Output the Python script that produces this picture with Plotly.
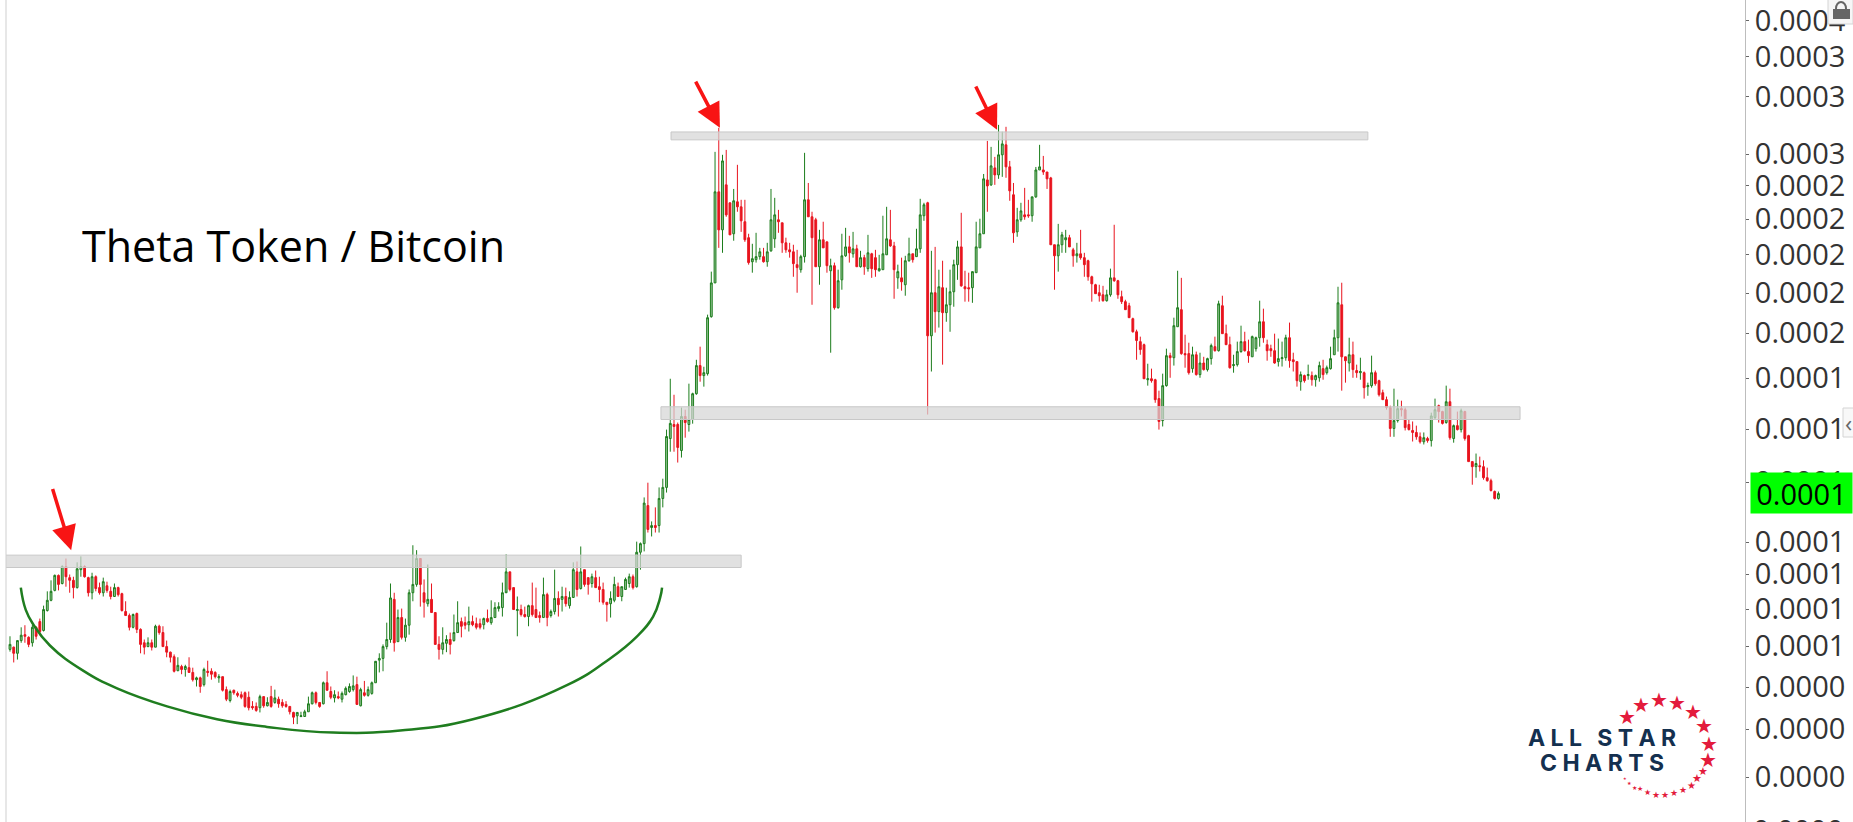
import numpy as np
import plotly.graph_objects as go

# Prices are in millionths of a BTC.
highs = [
61.3,59.4,60.5,63.0,63.4,61.3,63.5,63.2,64.7,67.3,
70.3,72.7,74.0,74.0,76.1,77.7,74.0,73.5,76.8,78.2,
76.1,73.5,74.4,73.8,72.2,73.3,72.4,71.3,72.0,71.3,
70.0,68.2,65.7,65.7,65.9,62.8,60.7,61.1,60.7,63.5,
63.5,63.2,60.5,58.5,58.0,57.5,56.2,56.2,57.5,55.7,
54.2,54.2,55.7,56.9,55.6,55.1,54.6,54.2,52.6,52.1,
52.1,51.8,51.8,51.8,51.8,50.3,50.1,51.3,51.0,50.9,
52.7,52.1,51.0,50.6,50.3,49.5,48.7,48.6,48.7,49.0,
51.0,51.8,51.8,50.1,53.4,55.1,52.6,52.0,51.8,51.8,
52.6,53.1,54.4,54.2,52.4,53.5,52.6,53.4,56.6,58.2,
59.8,63.9,72.0,70.0,66.5,66.7,64.7,70.7,80.9,79.7,
77.7,72.9,76.3,72.0,65.9,61.3,63.0,61.5,62.0,65.5,
68.2,64.9,65.1,67.1,65.3,64.9,64.7,64.9,66.5,68.4,
68.0,68.0,72.2,78.7,74.6,71.1,69.2,67.5,67.1,67.5,
72.2,71.1,66.1,73.3,70.0,66.5,75.1,70.3,71.3,71.1,
70.3,76.8,77.0,80.6,75.1,73.3,74.2,74.9,73.5,72.2,
68.0,70.3,73.5,72.2,71.3,73.3,74.2,74.0,81.8,81.6,
93.6,97.9,87.0,90.8,96.5,99.1,115.1,134.4,128.0,117.6,
123.1,122.3,132.4,128.8,142.4,148.2,139.4,163.4,186.3,268.4,
288.8,266.0,270.0,229.8,239.7,258.0,231.9,231.9,209.1,202.8,
209.7,200.3,200.3,203.4,239.7,233.3,224.9,216.2,206.6,203.4,
202.2,199.1,196.1,267.6,244.1,223.6,219.5,211.6,216.9,204.0,
193.8,191.5,187.4,209.1,212.9,207.8,210.3,202.2,198.5,196.1,
208.4,197.3,199.1,196.1,220.9,227.0,224.9,204.0,190.3,194.4,
195.5,206.6,196.7,212.3,232.6,229.8,230.5,198.5,200.9,187.4,
192.6,177.4,187.4,193.2,204.7,222.9,186.8,185.7,186.3,216.9,
218.9,250.9,277.5,272.5,264.3,291.4,285.3,289.7,261.1,244.1,
226.3,229.8,240.5,231.9,234.0,256.3,274.2,265.1,252.4,248.7,
202.2,215.5,210.3,211.6,208.4,200.3,203.4,211.6,197.3,193.2,
184.0,179.5,179.0,178.4,176.3,188.0,214.9,181.7,175.8,171.0,
169.4,161.9,156.1,152.8,149.6,140.7,138.6,134.4,129.6,136.5,
147.3,145.5,161.9,186.8,182.8,153.7,150.0,148.2,146.0,145.5,
143.7,143.3,149.6,152.8,170.5,173.1,158.5,152.8,144.6,150.5,
158.0,155.1,151.4,153.3,152.8,170.5,166.4,151.4,149.1,154.2,
151.9,150.5,153.7,159.5,145.5,141.6,137.4,136.1,140.3,137.4,
136.1,141.6,142.4,139.9,148.2,156.1,177.9,180.1,143.7,152.3,
150.5,140.3,143.3,137.4,132.8,144.2,137.8,134.0,130.0,127.3,
123.8,130.4,126.1,125.7,123.1,118.7,118.0,116.5,114.1,114.1,
112.6,121.2,126.5,124.2,121.9,131.6,130.4,116.9,121.6,122.7,
121.9,113.3,104.4,107.0,106.0,104.8,102.5,99.1,95.6,95.3,
]
lows = [
58.5,56.6,57.1,60.1,60.1,59.3,59.4,60.7,61.5,62.2,
66.1,68.2,70.3,70.5,71.8,71.3,70.0,68.8,70.9,73.5,
73.3,69.2,68.6,70.3,69.6,69.2,70.0,68.6,69.2,69.2,
66.1,65.3,62.4,62.8,61.9,58.2,58.0,59.3,58.7,59.3,
61.6,59.4,57.5,56.6,54.9,55.1,54.6,54.2,54.9,53.4,
52.6,51.6,52.6,54.2,53.7,53.9,53.2,51.8,50.3,50.1,
51.3,50.9,50.6,49.3,48.9,49.0,48.7,48.6,49.3,49.5,
49.3,49.9,49.3,49.3,49.3,48.3,46.9,46.9,47.9,48.0,
48.7,49.8,49.8,49.3,49.8,52.1,50.6,50.1,50.6,50.1,
51.2,51.6,51.8,49.8,49.5,51.0,51.0,51.3,53.2,54.9,
55.1,58.9,60.1,58.5,60.3,60.7,60.3,61.6,68.2,71.3,
67.1,64.9,67.1,65.9,59.8,57.1,58.0,58.4,58.0,60.3,
62.0,61.1,62.6,62.2,63.2,62.6,62.6,62.6,63.9,63.5,
64.9,66.1,65.1,70.3,70.3,66.5,61.3,65.1,64.9,63.2,
65.1,64.9,63.9,64.9,63.2,64.9,65.5,65.1,66.1,67.1,
66.7,69.0,69.2,70.7,71.3,69.6,71.1,71.1,68.0,67.5,
64.1,64.9,68.0,69.2,68.2,70.7,71.1,70.7,71.1,75.1,
79.4,84.1,83.1,84.1,84.1,90.8,95.0,107.6,107.6,104.1,
105.7,112.3,114.4,117.2,128.0,133.2,131.2,135.7,161.9,180.0,
200.3,197.3,220.2,208.4,204.7,223.6,210.3,204.0,190.3,185.7,
191.5,193.2,191.5,189.1,197.9,200.3,209.7,197.3,197.3,194.4,
183.4,174.7,185.7,191.5,220.2,168.4,189.1,179.0,200.3,185.7,
145.5,165.9,166.4,176.3,194.9,191.5,194.4,189.1,188.6,184.5,
186.3,182.8,183.4,186.3,187.4,196.1,200.9,171.5,176.8,175.8,
173.1,192.0,191.5,194.9,197.3,217.5,120.5,137.4,154.7,157.1,
140.3,159.9,155.1,167.4,181.7,177.9,170.0,170.0,169.4,185.7,
200.3,209.1,223.6,241.9,242.7,247.2,248.7,248.0,231.2,203.4,
207.2,216.9,218.2,219.5,216.9,233.3,254.0,250.2,239.7,202.2,
176.3,186.3,197.3,197.3,200.9,189.1,191.5,193.2,183.4,181.2,
170.0,174.2,170.0,170.0,170.0,172.6,180.6,171.5,168.8,165.9,
161.9,154.7,142.4,144.6,134.4,131.6,132.8,124.9,115.1,116.2,
131.2,134.8,139.9,157.5,144.6,139.0,136.1,136.9,135.7,134.8,
137.8,137.4,140.3,146.0,146.0,154.2,149.1,138.6,136.9,139.5,
145.5,146.0,141.1,143.7,146.0,148.2,150.0,142.0,143.7,140.7,
139.5,139.5,142.0,139.0,137.4,131.2,129.6,132.8,134.0,131.6,
131.2,133.2,134.0,136.1,138.2,144.6,146.0,129.6,132.8,137.4,
134.8,134.8,134.0,126.5,127.6,130.8,131.6,127.3,126.1,122.3,
112.6,112.6,117.6,119.8,114.8,114.8,111.0,111.6,110.3,110.0,
110.6,109.3,118.7,117.6,116.9,117.2,111.6,110.6,114.8,114.1,
111.3,104.4,97.3,99.4,101.3,98.8,98.2,95.3,93.0,93.0,
]
body_tops = [
59.8,59.3,60.5,61.5,61.6,61.1,63.0,63.0,64.1,66.5,
68.4,70.3,73.8,73.8,75.8,75.8,73.3,72.7,75.3,75.8,
75.8,73.3,73.5,73.5,71.1,72.4,71.5,70.3,71.1,71.1,
69.8,66.1,65.3,65.5,65.7,62.6,60.1,60.1,60.1,63.2,
63.2,62.0,59.4,58.4,57.6,56.1,55.9,55.9,55.7,54.9,
54.0,54.0,55.4,55.1,55.1,54.9,54.2,54.2,52.1,51.8,
52.0,51.5,51.3,51.6,50.9,49.5,49.5,51.0,51.0,50.1,
51.0,50.8,50.6,50.1,49.8,49.5,48.6,48.6,48.1,48.7,
49.9,51.6,51.6,50.1,53.2,53.2,51.8,51.3,51.0,51.5,
52.3,52.6,52.7,52.9,52.1,51.6,52.1,53.2,56.8,57.3,
59.4,60.7,68.9,68.6,64.9,64.9,63.4,70.0,71.8,77.7,
77.7,70.0,68.6,68.6,65.9,59.8,60.1,60.7,60.7,62.0,
63.9,64.1,63.9,64.1,64.1,63.7,63.7,64.7,64.7,64.9,
66.9,67.1,70.0,74.6,74.6,71.1,66.5,66.5,65.5,67.3,
67.3,66.5,65.3,69.6,69.6,66.1,68.8,68.8,69.2,69.2,
69.0,75.1,74.6,74.6,75.1,73.3,73.5,73.3,71.3,70.7,
68.0,68.8,71.8,71.3,71.3,72.9,73.5,73.5,79.2,81.3,
92.0,91.3,85.9,85.9,93.3,96.5,112.7,117.3,116.9,116.9,
119.8,119.8,118.7,128.4,139.9,139.9,136.9,161.9,180.0,237.6,
237.6,261.1,242.7,229.8,231.2,230.5,227.0,216.9,206.6,193.8,
195.0,197.9,195.0,197.9,218.2,221.5,218.2,216.2,203.4,199.1,
197.9,190.3,195.0,231.9,231.9,220.2,218.2,205.3,205.3,204.0,
189.7,189.7,181.2,195.5,200.9,200.9,199.7,199.7,194.4,194.4,
197.3,196.7,194.4,188.0,196.7,205.9,205.3,201.5,186.3,182.8,
192.6,196.7,196.7,199.7,221.5,228.4,229.8,174.7,174.7,177.9,
177.4,168.4,175.2,190.3,200.9,200.9,177.9,177.4,186.3,200.9,
209.1,247.2,246.4,257.2,255.6,266.0,275.0,274.2,256.4,235.5,
218.2,224.2,221.5,221.5,234.0,254.0,256.4,254.0,252.4,247.9,
202.2,202.2,208.4,206.6,206.6,199.1,196.7,196.7,194.4,192.6,
183.4,179.0,174.7,173.6,173.6,182.8,182.8,181.2,172.6,170.0,
167.9,161.4,155.1,150.5,149.1,134.4,134.4,134.0,126.5,131.6,
144.2,144.2,158.0,166.9,165.9,145.1,145.1,144.6,144.6,141.0,
141.0,142.9,148.7,148.2,168.9,167.9,154.2,149.1,140.3,146.0,
150.5,150.5,146.0,152.8,152.3,159.9,159.9,149.1,147.3,146.4,
142.9,143.3,152.3,152.3,142.4,141.6,136.1,135.7,136.1,135.7,
135.7,139.9,138.6,139.0,142.9,152.3,169.4,168.4,143.7,144.6,
144.6,137.8,137.4,136.9,131.6,136.9,136.9,133.6,128.8,126.1,
123.1,118.3,122.7,122.7,122.3,116.9,114.8,114.1,112.6,112.3,
112.0,120.0,122.3,123.8,121.6,125.3,125.3,116.5,116.5,121.9,
121.6,113.0,104.4,103.8,103.1,102.8,99.4,98.5,95.3,94.7,
]
body_bottoms = [
58.9,58.2,58.2,60.5,61.3,59.8,60.1,61.3,62.2,62.4,
66.3,68.4,70.5,71.8,72.0,73.5,72.7,71.1,71.1,75.1,
73.5,70.0,70.0,70.9,70.0,70.0,70.5,69.2,69.2,69.6,
66.3,65.3,63.0,63.0,62.6,59.8,59.3,59.4,59.3,59.3,
62.0,59.4,58.4,57.5,55.1,55.2,55.4,55.4,54.9,53.7,
53.7,52.6,52.9,54.9,54.6,54.2,54.0,52.0,50.6,50.4,
51.6,51.2,50.9,49.5,49.3,49.3,48.9,49.3,49.6,49.6,
49.5,50.1,49.9,49.6,49.5,48.7,47.9,48.1,48.0,48.0,
48.7,49.9,50.1,49.5,49.9,52.0,50.9,50.8,50.8,50.6,
51.3,51.8,52.1,49.8,49.6,51.2,51.2,51.5,53.2,57.0,
57.3,59.4,60.7,60.1,60.3,61.1,61.1,63.4,70.0,71.8,
71.8,68.0,67.7,65.9,59.8,58.9,58.9,60.0,59.8,60.5,
62.0,63.2,63.4,63.5,63.5,63.0,63.0,63.5,64.1,63.9,
64.9,66.7,66.9,70.0,70.7,66.5,66.3,65.5,65.1,65.1,
65.5,64.9,64.9,64.9,64.9,65.3,66.1,67.5,68.6,67.7,
67.3,69.0,70.7,70.9,71.8,71.8,72.0,71.1,70.7,68.0,
67.5,67.7,68.4,69.2,69.2,70.7,72.0,71.1,71.3,79.2,
81.3,84.9,85.4,85.4,85.9,93.3,96.5,112.0,116.2,109.0,
108.0,117.6,116.9,118.7,128.4,135.7,135.7,136.5,162.4,180.0,
211.6,211.6,221.5,208.4,209.1,227.0,217.5,205.3,191.5,192.0,
193.2,195.0,192.0,192.0,198.5,205.9,216.9,203.4,199.1,197.9,
190.9,188.6,187.4,195.0,220.2,206.6,189.1,189.1,200.3,189.7,
186.8,166.9,166.9,181.7,195.5,197.3,196.7,189.1,189.1,189.1,
188.0,188.0,187.4,186.8,187.4,196.1,201.5,187.4,182.8,180.6,
179.0,192.6,193.2,195.0,199.7,220.9,153.2,153.2,164.9,164.9,
164.4,164.4,168.4,175.2,190.3,178.4,176.8,176.8,177.4,185.7,
200.3,209.1,241.9,242.7,250.2,250.2,266.0,256.4,238.3,209.7,
210.3,218.2,220.2,220.9,220.9,234.0,254.0,252.4,247.2,202.2,
195.5,195.5,202.2,205.3,200.9,195.5,195.5,194.4,190.3,183.4,
179.5,174.2,173.1,170.5,170.5,173.6,181.2,173.6,170.0,165.9,
161.9,155.1,151.0,146.9,134.4,134.0,133.6,126.1,118.0,118.3,
131.6,143.3,143.3,157.5,145.1,144.6,136.9,138.6,136.1,136.1,
138.2,138.2,142.9,146.4,146.4,154.2,149.1,139.0,139.9,140.3,
146.0,146.4,144.2,143.7,147.3,152.3,152.3,146.4,146.4,141.0,
141.6,142.9,143.3,142.0,141.6,133.6,133.2,133.6,135.7,134.0,
134.0,134.8,136.1,136.9,138.6,144.6,152.3,143.7,142.0,141.0,
138.2,136.9,136.9,130.8,131.2,131.6,132.4,128.0,126.1,123.1,
115.5,115.5,118.3,122.3,115.8,115.1,114.1,112.6,110.9,110.9,
111.3,111.3,119.4,121.6,117.3,117.6,112.3,112.0,115.1,115.1,
112.0,104.4,102.8,102.8,102.8,99.4,98.5,95.6,93.3,93.3,
]
# G = closed up, R = closed down
directions = (
"GRGGRRGRRG" "GGGRGRRRGG" "RRGRRGRRGR" "RRRGRRRGRG" "RRRRRGRGRR"
"GRGRRRGRRG" "RRRRRRRGRG" "RGRRRRRGGG" "GGRRGRRGRG" "GGGRGRGGGG"
"GGGRGRGGGG" "RRGRRRGGRG" "GRRGRRRGRG" "GGGGRRGRRG" "RRRGRGGRGR"
"GGRGRRGRRR" "RGGRGGGRGG" "GRGRGGGGRR" "GRGGGRGGGG" "RGRRGRRRRG"
"GGRGGGRRRR" "RRGGRRRGRR" "GRGGGRGRGR" "GRRGGGRRGR" "GGRGGGRGRG"
"RGGGGRRRGG" "GGRGRGGRRR" "GGRRGGGRRR" "RGGGRRGRRR" "RRRRGGRRRR"
"RRRRRGRRRG" "GRGGRRRGRG" "RGGRGRRRGG" "GRRGGGRRRR" "GGGRRRGRGR"
"GGRGGGGRRG" "RRGRGGRRRR" "RGGRRRRRRG" "RGGRRGRGRG" "RRRGRRRRRG"
)

tick_prices = [400.0,358.4,317.3,266.6,241.9,218.7,196.0,174.5,154.5,134.7,115.3,98.1,81.7,74.1,66.6,59.5,52.5,46.2,39.9]
tick_labels = ["0.0004","0.0003","0.0003","0.0003","0.0002","0.0002","0.0002","0.0002","0.0002",
               "0.0001","0.0001","0.0001","0.0001","0.0001","0.0001","0.0001","0.0000","0.0000","0.0000"]
last_label = "0.0001"
title_text = "Theta Token / Bitcoin"

# resistance / support bands: (bar start, bar end, price low, price high)
zones = [(-1.3,196.0,75.6,78.5),(177.2,364.0,278.4,285.2),(174.5,404.8,118.7,123.4)]
# arrows: (tail bar, tail price, head bar, head price)
arrows = [(11.3,96.5,16.4,79.7),(183.6,334.0,190.3,288.8),(258.7,329.1,264.6,287.0)]
# rounding-bottom arc
arc_bars = [2.9,4.2,6.2,10.7,19.6,28.7,42.1,55.5,68.9,86.6,104.6,124.1,149.3,160.9,168.1,172.4,174.3,174.8]
arc_prices = [71.1,66.5,63.6,59.6,55.2,52.3,49.5,47.6,46.5,45.7,46.0,47.6,52.8,57.3,61.3,65.1,69.0,71.1]

W, H = 1853, 822
L, R = 6, 1745
def px(x): return (x - L) / (R - L)
def py(y): return 1 - y / H
U = 1e-6

bars = list(range(len(highs)))
opens = [(b if d == "G" else t) * U for t, b, d in zip(body_tops, body_bottoms, directions)]
closes = [(t if d == "G" else b) * U for t, b, d in zip(body_tops, body_bottoms, directions)]

fig = go.Figure()
fig.add_trace(go.Candlestick(
    x=bars, open=opens, high=[v * U for v in highs], low=[v * U for v in lows], close=closes,
    increasing=dict(line=dict(color="#1c7d1c", width=1), fillcolor="rgba(125,180,125,0.8)"),
    decreasing=dict(line=dict(color="#e8141e", width=1), fillcolor="#e8141e"),
    hoverinfo="skip", showlegend=False))
fig.add_trace(go.Scatter(
    x=arc_bars, y=[v * U for v in arc_prices], mode="lines",
    line=dict(color="#1f7d1f", width=2.5, shape="spline", smoothing=1.3),
    hoverinfo="skip", showlegend=False))

shapes = []
for x0, x1, lo, hi in zones:
    shapes.append(dict(type="rect", xref="x", yref="y", x0=x0, x1=x1, y0=lo * U, y1=hi * U,
                       fillcolor="rgba(214,214,214,0.72)", line=dict(color="#c8c8c8", width=1), layer="above"))
shapes.append(dict(type="line", xref="paper", yref="paper", x0=0, x1=0, y0=0, y1=1, line=dict(color="#cfcfcf", width=1)))
# lock button
shapes.append(dict(type="rect", xref="paper", yref="paper", x0=px(1828), x1=px(1853), y0=py(24), y1=py(-1),
                   fillcolor="#f6f6f6", line=dict(color="#d4d4d4", width=1), layer="above"))
shapes.append(dict(type="circle", xref="paper", yref="paper", x0=px(1836), x1=px(1846), y0=py(15), y1=py(2),
                   line=dict(color="#666666", width=2), layer="above"))
shapes.append(dict(type="rect", xref="paper", yref="paper", x0=px(1833), x1=px(1850), y0=py(19), y1=py(9),
                   fillcolor="#666666", line=dict(width=0), layer="above"))
# collapse button
shapes.append(dict(type="rect", xref="paper", yref="paper", x0=px(1843), x1=px(1854), y0=py(437), y1=py(408),
                   fillcolor="#f8f8f8", line=dict(color="#d4d4d4", width=1), layer="above"))

ann = []
for tx, tp, hx, hp in arrows:
    ann.append(dict(x=hx, y=np.log10(hp * U), ax=tx, ay=np.log10(tp * U), xref="x", yref="y", axref="x", ayref="y",
                    text="", showarrow=True, arrowhead=2, arrowsize=1.4, arrowwidth=3.5, arrowcolor="#f81414"))
ann.append(dict(x=px(80), y=py(245), xref="paper", yref="paper", xanchor="left", yanchor="middle", showarrow=False,
                text=title_text, font=dict(family="Open Sans", size=43, color="#000000")))
ann.append(dict(x=px(1801.5), y=py(493), xref="paper", yref="paper", xanchor="center", yanchor="middle",
                showarrow=False, text=last_label, bgcolor="#00ff00", width=101, height=40, borderpad=0,
                font=dict(family="Open Sans", size=29, color="#000000")))
ann.append(dict(x=px(1751), y=py(829), xref="paper", yref="paper", xanchor="left", yanchor="middle",
                showarrow=False, text="0.0000", font=dict(family="Open Sans", size=29, color="#333333")))
ann.append(dict(x=px(1848), y=py(422), xref="paper", yref="paper", xanchor="center", yanchor="middle",
                showarrow=False, text="‹", font=dict(family="Open Sans", size=24, color="#666666")))
ls = "\u2009\u200a"
ann.append(dict(x=px(1602), y=py(738), xref="paper", yref="paper", xanchor="center", yanchor="middle", showarrow=False,
                text="<b>" + ls.join("ALL") + "\u2002\u2009" + ls.join("STAR") + "</b>",
                font=dict(family="Inter", size=23, color="#14304f")))
ann.append(dict(x=px(1602), y=py(763), xref="paper", yref="paper", xanchor="center", yanchor="middle", showarrow=False,
                text="<b>" + ls.join("CHARTS") + "</b>",
                font=dict(family="Inter", size=23, color="#14304f")))
stars = [(1627,717,20),(1641,705,20),(1659,700,20),(1677,703,20),(1693,712,20),(1704,726,20),(1709,744,20),(1708,760,20),
         (1703,771,11),(1697,778,11),(1691,785,10),(1683,790,9),(1674,793,9),(1665,795,9),(1656,795,9),(1647,792,8),
         (1640,789,7),(1634,787,6),(1629,783,5),(1625,778,4)]
for sx, sy, ss in stars:
    ann.append(dict(x=px(sx), y=py(sy), xref="paper", yref="paper", xanchor="center", yanchor="middle", showarrow=False,
                    text="★", font=dict(family="DejaVu Sans", size=ss, color="#e31b3c")))

fig.update_layout(
    width=W, height=H, margin=dict(l=L, r=W - R, t=0, b=0), paper_bgcolor="#ffffff", plot_bgcolor="#ffffff",
    showlegend=False, hovermode=False, shapes=shapes, annotations=ann,
    xaxis=dict(range=[-1.07, 465.1], showticklabels=False, showgrid=False, zeroline=False, showline=False,
               ticks="", rangeslider=dict(visible=False), fixedrange=True),
    yaxis=dict(type="log", range=[float(np.log10(34.8e-6)), float(np.log10(426.4e-6))], side="right",
               tickmode="array", tickvals=[v * U for v in tick_prices], ticktext=tick_labels,
               tickfont=dict(family="Open Sans", size=29, color="#333333"), ticks="outside", ticklen=3,
               tickcolor="#666666", showline=True, linecolor="#bdbdbd", linewidth=1, showgrid=False,
               zeroline=False, fixedrange=True),
)
fig.write_html("out.html", config=dict(displayModeBar=False),
               post_script="document.body.style.margin='0';document.body.style.overflow='hidden';")
